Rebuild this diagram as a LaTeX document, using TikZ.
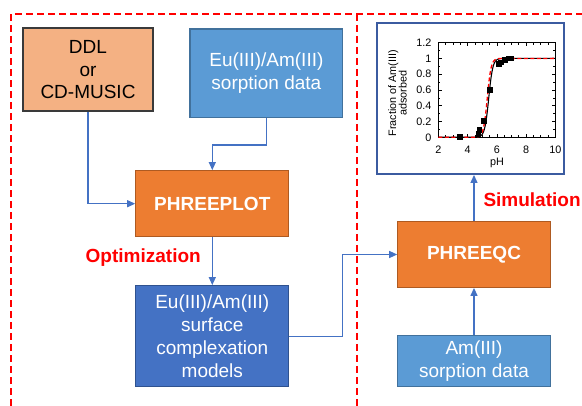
\documentclass[tikz,border=0pt]{standalone}
\usepackage{fontspec}
\setmainfont{Liberation Sans}
\usetikzlibrary{arrows.meta,calc}
\definecolor{orangeFill}{HTML}{ED7D31}
\definecolor{orangeLine}{HTML}{AE5A21}
\definecolor{peachFill}{HTML}{F4B183}
\definecolor{peachLine}{HTML}{3A3A3A}
\definecolor{skyFill}{HTML}{5B9BD5}
\definecolor{skyLine}{HTML}{41719C}
\definecolor{royalFill}{HTML}{4472C4}
\definecolor{royalLine}{HTML}{2F528F}
\definecolor{linkBlue}{HTML}{4472C4}
\definecolor{frameBlue}{HTML}{3B5BA0}
\definecolor{labelRed}{HTML}{FF0000}

\begin{document}
\begin{tikzpicture}[x=1pt,y=-1pt,
  box/.style={draw, line width=1.2pt, inner sep=0pt, align=center,
    font=\fontsize{19}{22.7}\selectfont},
  peachbox/.style={box, fill=peachFill, draw=peachLine, text=black},
  skybox/.style={box, fill=skyFill, draw=skyLine, text=white},
  royalbox/.style={box, fill=royalFill, draw=royalLine, text=white},
  toolbox/.style={box, fill=orangeFill, draw=orangeLine, text=white,
    font=\fontsize{19}{22.7}\selectfont\bfseries},
  link/.style={draw=linkBlue, line width=1.2pt, -{Triangle[length=8pt,width=7pt]}},
  steplabel/.style={text=labelRed, anchor=west, inner sep=0pt,
    font=\fontsize{19}{22.7}\selectfont\bfseries},
  regionline/.style={draw=labelRed, line width=1.5pt, dash pattern=on 7pt off 4pt},
  ticklabel/.style={inner sep=0pt, font=\fontsize{10.8}{12}\selectfont}
]
\useasboundingbox (0,0) rectangle (582,406);

% dashed outlines of the two work regions
\draw[regionline] (11,406) -- (11,14) -- (582,14);
\draw[regionline] (357,14) -- (357,406);

% input, tool and result boxes
\node[peachbox, minimum width=130pt, minimum height=83pt] (ddl) at (88,69.6)
  {DDL\\or\\CD-MUSIC};
\node[skybox, minimum width=152.7pt, minimum height=88.3pt] (eudata) at (266.4,73.2)
  {Eu(III)/Am(III)\\sorption data};
\node[toolbox, minimum width=153pt, minimum height=66pt] (phreeplot) at (212.3,203.7)
  {PHREEPLOT};
\node[royalbox, minimum width=153pt, minimum height=101pt] (surface) at (212.3,336.2)
  {Eu(III)/Am(III)\\surface\\complexation\\models};
\node[toolbox, minimum width=152.4pt, minimum height=65.6pt] (phreeqc) at (474,254.5)
  {PHREEQC};
\node[skybox, minimum width=152.4pt, minimum height=51pt] (amdata) at (474,361.2)
  {Am(III)\\sorption data};
\node[draw=frameBlue, fill=white, line width=2pt, minimum width=187.3pt,
  minimum height=151.3pt, inner sep=0pt] (plotbox) at (470.3,98.3) {};

% step labels
\node[steplabel] (opt) at (85.5,257.3) {Optimization};
\node[steplabel] (sim) at (483.3,199.3) {Simulation};

% connectors
\draw[link] (ddl.south) |- (phreeplot.west);
\draw[link] (eudata.south) -- ++(0,27) -| (phreeplot.north);
\draw[link] (phreeplot.south) -- (surface.north);
\coordinate (bend) at (342.8,336.2);
\draw[link] (surface.east) -- (bend) |- (phreeqc.west);
\draw[link] (amdata.north) -- (phreeqc.south);
\draw[link] (phreeqc.north) -- (phreeqc.north |- plotbox.south);

% sorption edge plot: frame and ticks
\draw[line width=0.6pt] (438.3,42.7) rectangle (555,137.3);
\foreach \i in {0,...,16}{
  \pgfmathsetmacro\tx{438.3+\i*7.3125}
  \pgfmathsetmacro\tl{ifthenelse(mod(\i,4)==0,3.5,2)}
  \draw[line width=0.5pt] (\tx,137.3) -- ++(0,-\tl);
  \draw[line width=0.5pt] (\tx,42.7) -- ++(0,\tl);
}
\foreach \i in {0,...,12}{
  \pgfmathsetmacro\ty{137.3-\i*7.89}
  \pgfmathsetmacro\tl{ifthenelse(mod(\i,2)==0,3.5,2)}
  \draw[line width=0.5pt] (438.3,\ty) -- ++(\tl,0);
  \draw[line width=0.5pt] (555,\ty) -- ++(-\tl,0);
}
\foreach \v in {2,4,6,8,10}
  \node[ticklabel] (xt\v) at ({438.3+(\v-2)*14.625},150) {\v};
\foreach \v/\t in {0/0,1/0.2,2/0.4,3/0.6,4/0.8,5/1,6/1.2}
  \node[ticklabel, anchor=east] (yt\v) at (431.7,{137.3-\v*15.78}) {\t};
\node[ticklabel] (xlab) at (497,163.3) {pH};
\node[ticklabel, rotate=90, align=center, font=\fontsize{10.8}{10.6}\selectfont]
  (ylab) at (397.5,93.3) {Fraction of Am(III)\\adsorbed};

% model curves and measured points, in pH / fraction units
\begin{scope}[shift={(409.05pt,-137.3pt)}, x=14.625pt, y=78.9pt]
  \draw[black, line width=1.1pt]
    (2,0) -- (4.3,0)
    -- plot[domain=4.3:6.6, samples=60, smooth] (\x,{1/(1+exp(-7.2*(\x-5.45)))})
    -- (10,1);
  \draw[labelRed, line width=1.3pt, dash pattern=on 4pt off 2.5pt]
    (2,0) -- (4.3,0)
    -- plot[domain=4.3:6.4, samples=60, smooth] (\x,{1/(1+exp(-7.6*(\x-5.35)))})
    -- (10,1);
  \foreach \p/\f in {3.5/0, 4.75/0.04, 4.82/0.09, 5.13/0.21, 5.55/0.6,
                     6.15/0.93, 6.3/0.95, 6.55/0.98, 6.8/1.0, 7.0/1.0}
    \fill[black] (\p,\f) ++(-2.8pt,-2.8pt) rectangle ++(5.6pt,5.6pt);
\end{scope}
\end{tikzpicture}
\end{document}
